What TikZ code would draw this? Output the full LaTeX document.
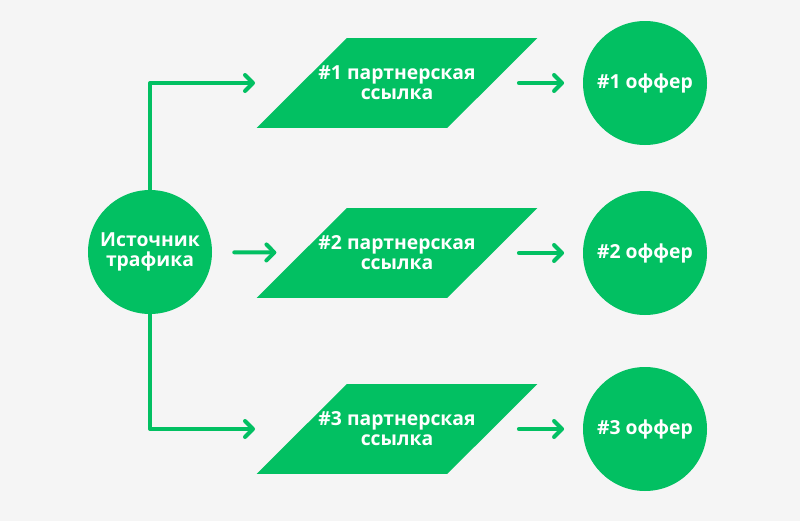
\documentclass[tikz,border=0pt]{standalone}
\usepackage{fontspec}
\setmainfont{Open Sans}
\usepackage{tikz}
\usetikzlibrary{arrows.meta,calc,backgrounds}

\definecolor{leafgreen}{RGB}{2,192,98}
\definecolor{paper}{RGB}{245,245,245}

\begin{document}
\begin{tikzpicture}[x=0.75pt,y=-0.75pt,>={Straight Barb[length=6pt,width=12pt,round]}]
  \tikzstyle{every node}=[text=white,font=\bfseries\fontsize{14.5pt}{15pt}\selectfont,align=center]
  \tikzstyle{wire}=[->,draw=leafgreen,line width=3pt,line cap=round,line join=round]
  \tikzstyle{blob}=[circle,fill=leafgreen,draw=none,minimum size=93pt,inner sep=0pt]
  \tikzstyle{link}=[rectangle,draw=none,minimum width=142.5pt,minimum height=67pt,inner sep=0pt]

  \node[blob] (src) at (150,252) {Источник\\трафика};

  \node[link] (p1) at (397,83)  {\#1 партнерская\\ссылка};
  \node[link] (p2) at (397,253) {\#2 партнерская\\ссылка};
  \node[link] (p3) at (397,429) {\#3 партнерская\\ссылка};

  \node[blob] (o1) at (645,83)  {\#1 оффер};
  \node[blob] (o2) at (645,253) {\#2 оффер};
  \node[blob] (o3) at (645,429) {\#3 оффер};

  \begin{pgfonlayer}{background}
    \fill[paper] (0,0) rectangle (800,521);
    % slanted boxes behind the link labels
    \foreach \n in {1,2,3}
      \fill[leafgreen] ($(p\n.south west)+(-45,0)$) -- ($(p\n.south east)+(-45,0)$)
        -- ($(p\n.north east)+(45,0)$) -- ($(p\n.north west)+(45,0)$) -- cycle;
  \end{pgfonlayer}

  \draw[wire] (src.north) |- ($(p1.center)+(-142,0)$);
  \draw[wire] (src.south) |- ($(p3.center)+(-142,0)$);
  \path[wire] (src) edge [shorten <=16.5pt,shorten >=19pt] (p2)
        (p1)  edge [shorten <=20pt,shorten >=14pt] (o1)
        (p2)  edge [shorten <=20pt,shorten >=14pt] (o2)
        (p3)  edge [shorten <=20pt,shorten >=14pt] (o3)
        ;
\end{tikzpicture}
\end{document}
